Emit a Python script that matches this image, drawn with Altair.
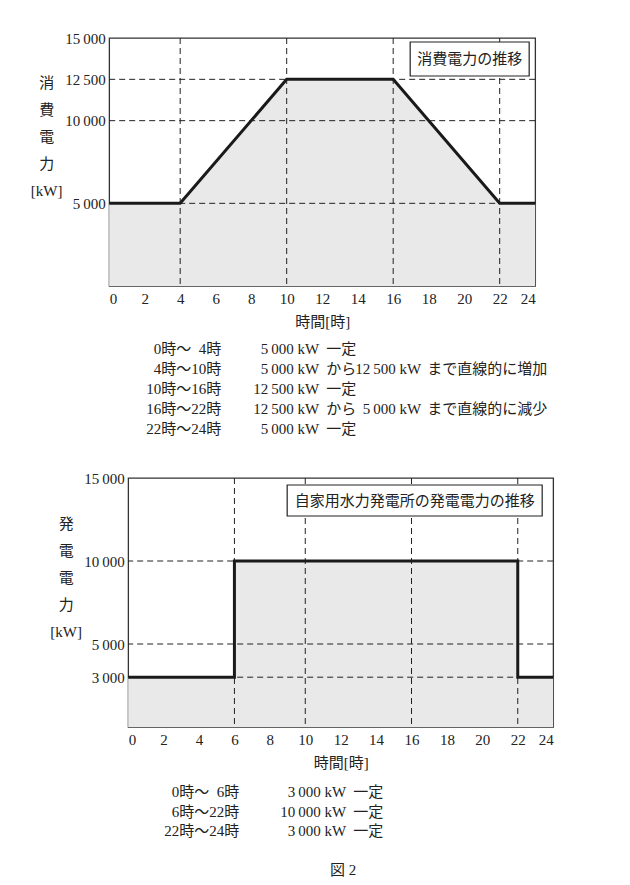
import altair as alt
import pandas as pd

FONT = "Liberation Serif, Noto Sans CJK JP"
INK = "#222222"
FILL = "#e9e9e9"

# ---------------- data ----------------
x_ticks = [0, 2, 4, 6, 8, 10, 12, 14, 16, 18, 20, 22, 24]

cons_hours = [0, 4, 10, 16, 22, 24]
cons_kw = [5000, 5000, 12500, 12500, 5000, 5000]
cons_vgrid = [4, 10, 16, 22]
cons_hgrid = [5000, 10000, 12500]
cons_yticks = [5000, 10000, 12500, 15000]
cons_box = "消費電力の推移"
cons_ytitle = ["消", "費", "電", "力", "[kW]"]
cons_periods = ["0時〜\u20074時", "4時〜10時", "10時〜16時", "16時〜22時", "22時〜24時"]
cons_from = ["5\u2009000 kW", "5\u2009000 kW", "12\u2009500 kW", "12\u2009500 kW", "5\u2009000 kW"]
cons_mid = ["一定", "から", "一定", "から", "一定"]
cons_to = ["", "12\u2009500 kW", "", "5\u2009000 kW", ""]
cons_trend = ["", "まで直線的に増加", "", "まで直線的に減少", ""]

gen_hours = [0, 6, 22, 24]
gen_kw = [3000, 10000, 3000, 3000]
gen_vgrid = [6, 10, 16, 22]
gen_hgrid = [3000, 5000, 10000]
gen_yticks = [3000, 5000, 10000, 15000]
gen_box = "自家用水力発電所の発電電力の推移"
gen_ytitle = ["発", "電", "電", "力", "[kW]"]
gen_periods = ["0時〜\u20076時", "6時〜22時", "22時〜24時"]
gen_from = ["3\u2009000 kW", "10\u2009000 kW", "3\u2009000 kW"]
gen_mid = ["一定", "一定", "一定"]
fig_label = "図 2"

W, H = 426, 248
LABEL_EXPR = "replace(format(datum.value, ','), ',', '\u2009')"


def xenc():
    return alt.X("h:Q", scale=alt.Scale(domain=[0, 24], nice=False, zero=False),
                 axis=alt.Axis(values=x_ticks, title="時間[時]", labelPadding=5,
                               titlePadding=8, format="d"))


def yenc(ticks):
    return alt.Y("kw:Q", scale=alt.Scale(domain=[0, 15000], nice=False),
                 axis=alt.Axis(values=ticks, title=None, labelPadding=4,
                               labelExpr=LABEL_EXPR))


one = pd.DataFrame({"k": [0]})


def txt(x, y, text, align="left", baseline="top", size=15, lh=20, opacity=1):
    return alt.Chart(one).mark_text(
        font=FONT, fontSize=size, color=INK, align=align, baseline=baseline,
        lineBreak="\n", lineHeight=lh, opacity=opacity
    ).encode(x=alt.value(x), y=alt.value(y), text=alt.value(text))


def column(x, y0, items, align, lh):
    return [txt(x, y0 + lh * i, s, align=align) for i, s in enumerate(items) if s]


def panel(hours, kw, interp, vgrid, hgrid, yticks, box_text, box, ytitle, ytitle_x, ytitle_y):
    df = pd.DataFrame({"h": hours, "kw": kw})
    base = alt.Chart(df).encode(x=xenc(), y=yenc(yticks))
    area = base.mark_area(color=FILL, interpolate=interp)
    vr = alt.Chart(pd.DataFrame({"h": vgrid})).mark_rule(
        color=INK, strokeWidth=1, strokeDash=[6, 4]).encode(x=xenc())
    hr = alt.Chart(pd.DataFrame({"kw": hgrid})).mark_rule(
        color=INK, strokeWidth=1, strokeDash=[6, 4]).encode(y=yenc(yticks))
    line = base.mark_line(color="#1a1a1a", strokeWidth=3, interpolate=interp)
    x1, x2, y1, y2 = box
    rect = alt.Chart(one).mark_rect(fill="white", stroke=INK, strokeWidth=1.2).encode(
        x=alt.value(x1), x2=alt.value(x2), y=alt.value(y1), y2=alt.value(y2))
    btxt = txt((x1 + x2) / 2, (y1 + y2) / 2, box_text, align="center", baseline="middle")
    yt = txt(ytitle_x, ytitle_y, "\n".join(ytitle), align="center", baseline="top", lh=27)
    return [area, vr, hr, line, rect, btxt, yt]


top_layers = panel(cons_hours, cons_kw, "linear", cons_vgrid, cons_hgrid, cons_yticks,
                   cons_box, (301, 420, 4, 38), cons_ytitle, -62.5, 38)
top_layers += column(112, 304, cons_periods, "right", 20)
top_layers += column(210, 304, cons_from, "right", 20)
top_layers += column(217, 304, cons_mid, "left", 20)
top_layers += column(312, 304, cons_to, "right", 20)
top_layers += column(318, 304, cons_trend, "left", 20)
# invisible extent marker (controls horizontal centring of the lower panel)
top_layers += [txt(478, 100, ".", align="right", opacity=0)]
top = alt.layer(*top_layers).properties(width=W, height=H)

bot_layers = panel(gen_hours, gen_kw, "step-after", gen_vgrid, gen_hgrid, gen_yticks,
                   gen_box, (159, 414, 7, 38), gen_ytitle, -62, 39)
bot_layers += column(111, 307, gen_periods, "right", 19.5)
bot_layers += column(218, 307, gen_from, "right", 19.5)
bot_layers += column(225, 307, gen_mid, "left", 19.5)
bot_layers += [
    txt(215, 392, fig_label, align="center", baseline="middle"),
    txt(440, 100, ".", align="right", opacity=0),
]
bottom = alt.layer(*bot_layers).properties(width=425, height=249)

chart = alt.vconcat(top, bottom, spacing=32, center=True).properties(
    padding={"left": 22, "top": 22, "right": 5, "bottom": 5}
).configure_view(stroke="#333333", strokeWidth=1.3).configure_axis(
    domain=False, ticks=False, grid=False,
    labelFont=FONT, labelFontSize=15, labelColor=INK,
    titleFont=FONT, titleFontSize=15, titleFontWeight="normal", titleColor=INK,
)

chart.save("out.html", embed_options={"renderer": "svg", "actions": False})
